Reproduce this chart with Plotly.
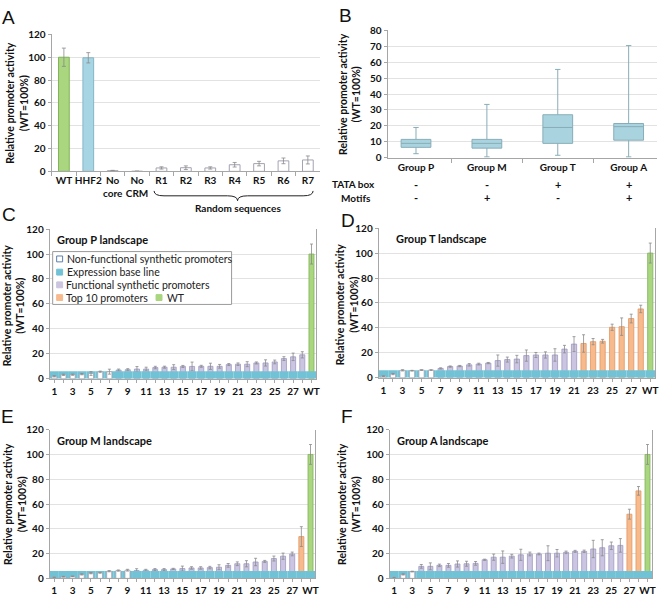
import plotly.graph_objects as go

W, H = 662, 601

# ---------------- data ----------------
A_CATS = ["WT", "HHF2", "No<br>core", "No<br>CRM", "R1", "R2", "R3", "R4", "R5", "R6", "R7"]
A_VALS = [100, 99.5, 0.6, 0.1, 3.0, 3.2, 3.0, 5.8, 6.8, 9.2, 10.0]
A_ERR = [8, 4.5, 0.3, 0.1, 1.0, 1.6, 1.0, 2.0, 2.0, 2.5, 3.5]

B_GROUPS = ["Group P", "Group M", "Group T", "Group A"]
B_LOW = [2.5, 0.5, 1.5, 0.5]
B_Q1 = [6.5, 6.0, 9.0, 11.0]
B_MED = [9.0, 9.0, 19.0, 19.5]
B_Q3 = [11.5, 11.5, 27.0, 21.5]
B_HIGH = [19.0, 33.5, 55.5, 70.5]
B_TATA = ["-", "-", "+", "+"]
B_MOTIFS = ["-", "+", "-", "+"]

LAND_CATS = [str(i) for i in range(1, 29)] + ["WT"]
LAND_TICKS = [str(i) if i % 2 == 1 else "" for i in range(1, 29)] + ["WT"]
BASELINE = 6

C_VALS = [2.0, 3.2, 3.3, 3.7, 4.2, 5.7, 5.7, 7.0, 7.3, 7.8, 7.8, 9.0, 9.3, 9.3, 9.9, 9.9,
          10.0, 10.0, 10.0, 11.4, 11.7, 11.7, 12.7, 12.7, 13.5, 16.2, 17.6, 19.2, 100]
C_ERR = [0.5, 0.5, 0.5, 0.5, 1.5, 0.5, 2, 0.8, 0.8, 2, 1.5, 1, 0.8, 2, 0.8, 3.5, 0.8, 2.5,
         1.5, 0.8, 1, 2, 0.8, 2.5, 1.5, 1.5, 3, 2.5, 8]
D_VALS = [1.3, 3.0, 6.0, 5.7, 6.2, 6.2, 7.5, 9.0, 9.4, 10.4, 11.0, 11.8, 13.8, 14.6, 15.0,
          17.8, 18.3, 18.3, 18.3, 23.0, 27.0, 27.5, 29.0, 29.3, 40.5, 41.0, 47.5, 55.2, 100]
D_ERR = [0.3, 0.5, 0.5, 0.3, 0.3, 0.3, 0.5, 0.5, 0.5, 1, 0.7, 0.5, 4.5, 2, 3, 4.5, 2, 2.5,
         5, 3, 6, 7, 2.5, 1.5, 2.5, 7, 3.5, 3, 8]
E_VALS = [0.8, 1.3, 1.6, 3.2, 4.2, 4.5, 5.8, 6.3, 6.6, 6.3, 6.6, 7.1, 7.1, 7.6, 7.9, 8.4,
          8.4, 8.7, 9.0, 10.5, 11.8, 11.8, 13.2, 13.7, 16.0, 17.9, 19.7, 33.7, 100]
E_ERR = [0.2, 0.3, 0.3, 0.5, 0.5, 0.3, 0.5, 0.5, 0.7, 1.5, 0.7, 0.8, 0.8, 0.5, 2, 1, 1, 1,
         2, 1.5, 1.5, 2.5, 3, 0.8, 2, 2.5, 1.5, 8, 8]
F_VALS = [0.5, 3.2, 5.5, 9.7, 9.7, 10.5, 10.5, 11.6, 11.8, 12.1, 15.0, 17.1, 17.1, 17.9,
          19.0, 19.7, 19.7, 20.3, 20.3, 21.0, 21.8, 21.8, 23.7, 24.7, 26.3, 26.6, 51.8, 70.6, 100]
F_ERR = [0.3, 0.5, 0.3, 1.5, 2.8, 1, 1.5, 2.5, 2, 1.5, 0.5, 2.5, 5, 1.5, 4.5, 1.5, 0.7, 6,
         3, 1, 0.8, 1, 7, 6.5, 3, 5.5, 4, 3.5, 8]

# number of non-functional promoters, index (1-based) of first top promoter
LANDSCAPES = [
    ("Group P landscape", C_VALS, C_ERR, 7, 29),
    ("Group T landscape", D_VALS, D_ERR, 6, 22),
    ("Group M landscape", E_VALS, E_ERR, 9, 28),
    ("Group A landscape", F_VALS, F_ERR, 3, 27),
]

# ---------------- style ----------------
FONT = "Lato"
GREEN, GREEN_L = "#a9d67e", "#82b25a"
LBLUE, LBLUE_L = "#a8d5e4", "#86b6c6"
PURPLE, PURPLE_L = "#cbc5e1", "#9f98c2"
ORANGE, ORANGE_L = "#f7ba8d", "#e29560"
WHITE_L = "#a3a3b3"
BAND = "#72c2d5"
GRID = "#e2e2e2"
AXIS = "#a6a6a6"
ERRC = "#8a8a8a"


def px(x):
    return x / W


def py(y):
    return 1 - y / H


fig = go.Figure()

# ---------------- Panel A ----------------
a_fill = [GREEN, LBLUE] + ["white"] * (len(A_CATS) - 2)
a_line = [GREEN_L, LBLUE_L] + [WHITE_L] * (len(A_CATS) - 2)
fig.add_trace(go.Bar(
    x=A_CATS, y=A_VALS, width=0.44, xaxis="x", yaxis="y",
    marker=dict(color=a_fill, line=dict(color=a_line, width=1)),
    error_y=dict(type="data", array=A_ERR, color=ERRC, thickness=0.8, width=2),
    showlegend=False, hoverinfo="x+y"))

# ---------------- Panel B ----------------
fig.add_trace(go.Box(
    x=B_GROUPS, q1=B_Q1, median=B_MED, q3=B_Q3, lowerfence=B_LOW, upperfence=B_HIGH,
    xaxis="x2", yaxis="y2", fillcolor="#a9d4df", line=dict(color="#88adb8", width=1),
    width=0.42, whiskerwidth=0.18, boxpoints=False, showlegend=False))

# ---------------- Panels C-F ----------------
for k, (title, vals, errs, n_non, top_start) in enumerate(LANDSCAPES):
    ax = str(k + 3)
    col_y, col_e, col_f, col_l = [], [], [], []
    wh_y, wh_e = [], []
    for i in range(len(LAND_CATS)):
        n = i + 1
        is_white = LAND_CATS[i] != "WT" and n <= n_non
        if is_white:
            wh_y.append(vals[i]); wh_e.append(errs[i])
            col_y.append(None); col_e.append(0)
            col_f.append(PURPLE); col_l.append(PURPLE_L)
            continue
        wh_y.append(None); wh_e.append(0)
        col_y.append(vals[i]); col_e.append(errs[i])
        if LAND_CATS[i] == "WT":
            col_f.append(GREEN); col_l.append(GREEN_L)
        elif n >= top_start:
            col_f.append(ORANGE); col_l.append(ORANGE_L)
        else:
            col_f.append(PURPLE); col_l.append(PURPLE_L)
    # functional / top / WT bars
    fig.add_trace(go.Bar(
        x=LAND_CATS, y=col_y, width=0.55, xaxis="x" + ax, yaxis="y" + ax,
        marker=dict(color=col_f, line=dict(color=col_l, width=0.8)),
        error_y=dict(type="data", array=col_e, color=ERRC, thickness=0.8, width=1.5),
        showlegend=False, hoverinfo="x+y"))
    # expression base line band
    fig.add_trace(go.Bar(
        x=LAND_CATS, y=[BASELINE] * len(LAND_CATS), width=1.0, xaxis="x" + ax,
        yaxis="y" + ax, marker=dict(color=BAND, line=dict(width=0)),
        showlegend=False, hoverinfo="skip"))
    # non-functional bars
    fig.add_trace(go.Bar(
        x=LAND_CATS, y=wh_y, width=0.55, xaxis="x" + ax, yaxis="y" + ax,
        marker=dict(color="white", line=dict(color=WHITE_L, width=0.8)),
        error_y=dict(type="data", array=wh_e, color=ERRC, thickness=0.8, width=1.5),
        showlegend=False, hoverinfo="x+y"))

# ---------------- axes ----------------
tickfont = dict(family=FONT, size=10, color="#111", weight="bold")
panels = {
    "": dict(x=(52, 322), y=(28, 168), rng=120, dt=20, mirror=False),
    "2": dict(x=(390, 661), y=(24, 154), rng=80, dt=10, mirror=False),
    "3": dict(x=(50, 318), y=(227, 380), rng=120, dt=20, mirror=True),
    "4": dict(x=(381, 659), y=(226, 379), rng=120, dt=20, mirror=True),
    "5": dict(x=(50, 317), y=(432, 584), rng=120, dt=20, mirror=True),
    "6": dict(x=(392, 656), y=(432, 584), rng=120, dt=20, mirror=True),
}
layout_axes = {}
for key, p in panels.items():
    xa = dict(domain=[px(p["x"][0]), px(p["x"][1])], anchor="y" + key,
              type="category", showline=True, linecolor=AXIS, linewidth=1,
              ticks="outside", ticklen=3, tickcolor=AXIS, tickfont=tickfont,
              tickangle=0, showgrid=False, zeroline=False, fixedrange=True)
    if key in ("3", "4", "5", "6"):
        xa.update(tickmode="array", tickvals=LAND_CATS, ticktext=LAND_TICKS,
                  range=[-0.5, len(LAND_CATS) - 0.5])
    else:
        xa.update(tickson="boundaries", ticklen=4)
    ya = dict(domain=[py(p["y"][1]), py(p["y"][0])], anchor="x" + key,
              range=[0, p["rng"]], dtick=p["dt"], showgrid=True, gridcolor=GRID,
              gridwidth=1, showline=True, linecolor=AXIS, linewidth=1,
              mirror=p["mirror"], ticks="outside", ticklen=3, tickcolor=AXIS,
              tickfont=tickfont, zeroline=False, fixedrange=True)
    layout_axes["xaxis" + key] = xa
    layout_axes["yaxis" + key] = ya
fig.update_layout(**layout_axes)

# ---------------- annotations & shapes ----------------
ann = []
shapes = []

# panel letters
for letter, (lx, ly) in zip("ABCDEF", [(9, 11), (348, 9), (9, 212), (350, 218), (8, 419), (349, 419)]):
    ann.append(dict(text=letter, x=px(lx), y=py(ly), xref="paper", yref="paper",
                    showarrow=False, xanchor="center", yanchor="middle",
                    font=dict(family="Liberation Sans", size=19, color="#111")))

# y titles
ytitle = "Relative promoter activity<br>(WT=100%)"
for (tx, ty) in [(17, 98), (352, 89), (14, 305), (350, 304), (15, 508), (351, 508)]:
    ann.append(dict(text=ytitle, x=px(tx), y=py(ty), xref="paper", yref="paper",
                    showarrow=False, textangle=-90, xanchor="center", yanchor="middle",
                    font=dict(family=FONT, size=10.5, color="#111", weight="bold")))

# brace under random sequences (panel A)
bx0, bx1, bxm = 155, 315, 239
y0, y1, y2 = 188, 193, 198
path = (f"M {px(bx0)},{py(y0)} Q {px(bx0)},{py(y1)} {px(bx0 + 10)},{py(y1)} "
        f"L {px(bxm - 10)},{py(y1)} Q {px(bxm)},{py(y1)} {px(bxm)},{py(y2)} "
        f"Q {px(bxm)},{py(y1)} {px(bxm + 10)},{py(y1)} "
        f"L {px(bx1 - 10)},{py(y1)} Q {px(bx1)},{py(y1)} {px(bx1)},{py(y0)}")
shapes.append(dict(type="path", path=path, xref="paper", yref="paper",
                   line=dict(color="#222", width=1)))
ann.append(dict(text="Random sequences", x=px(bxm), y=py(205), xref="paper", yref="paper",
                showarrow=False, xanchor="center", yanchor="middle",
                font=dict(family=FONT, size=10, color="#111", weight="bold")))

# panel B rows
ann.append(dict(text="TATA box", x=px(379), y=py(181), xref="paper", yref="paper",
                showarrow=False, xanchor="right", yanchor="middle",
                font=dict(family=FONT, size=10, color="#111", weight="bold")))
ann.append(dict(text="Motifs", x=px(375), y=py(195), xref="paper", yref="paper",
                showarrow=False, xanchor="right", yanchor="middle",
                font=dict(family=FONT, size=10, color="#111", weight="bold")))
for g, t, m in zip(B_GROUPS, B_TATA, B_MOTIFS):
    for sym, yy in ((t, 181), (m, 195)):
        ann.append(dict(text=sym, x=g, y=py(yy), xref="x2", yref="paper",
                        showarrow=False, xanchor="center", yanchor="middle",
                        font=dict(family=FONT, size=11, color="#111", weight="bold")))

# landscape titles
title_pos = {"3": (55, 238), "4": (396, 237), "5": (55, 443), "6": (397, 443)}
for k, (title, *_rest) in enumerate(LANDSCAPES):
    ax = str(k + 3)
    tx, ty = title_pos[ax]
    ann.append(dict(text=title, x=px(tx), y=py(ty), xref="paper", yref="paper",
                    showarrow=False, xanchor="left", yanchor="middle",
                    font=dict(family=FONT, size=11, color="#111", weight="bold")))

# custom legend in panel C
shapes.append(dict(type="rect", xref="paper", yref="paper", x0=px(53), x1=px(233),
                   y0=py(304), y1=py(250), fillcolor="white",
                   line=dict(color="#9a9a9a", width=1)))
leg = [
    ("Non-functional synthetic promoters", "white", "#5b7fae", 57, 65.5, 257.5),
    ("Expression base line", BAND, BAND, 57, 65.5, 271),
    ("Functional synthetic promoters", PURPLE, PURPLE, 57, 64, 284),
    ("Top 10 promoters", ORANGE, ORANGE, 57, 64, 297),
    ("WT", GREEN, GREEN, 157, 166, 297),
]
for text, fc, lc, sx, tx, yy in leg:
    shapes.append(dict(type="rect", xref="paper", yref="paper", x0=px(sx), x1=px(sx + 6),
                       y0=py(yy + 3), y1=py(yy - 3), fillcolor=fc, line=dict(color=lc, width=1)))
    ann.append(dict(text=text, x=px(tx), y=py(yy), xref="paper", yref="paper",
                    showarrow=False, xanchor="left", yanchor="middle",
                    font=dict(family=FONT, size=10.5, color="#222")))

fig.update_layout(
    width=W, height=H, autosize=False,
    margin=dict(l=0, r=0, t=0, b=0, pad=0),
    paper_bgcolor="white", plot_bgcolor="white",
    font=dict(family=FONT, size=10, color="#111"),
    showlegend=False, barmode="overlay",
    annotations=ann, shapes=shapes,
)

fig.write_html("out.html", config={"displayModeBar": False},
               post_script="document.body.style.margin='0';")
